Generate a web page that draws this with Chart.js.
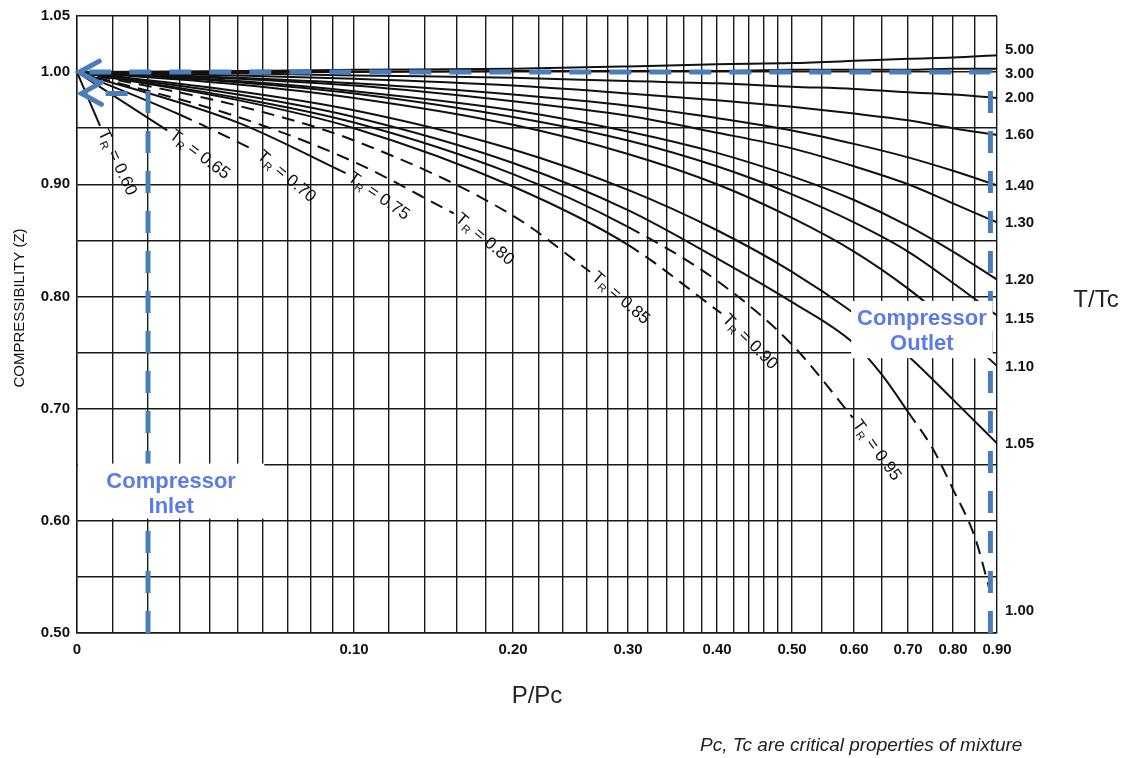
<!DOCTYPE html>
<html>
<head>
<meta charset="utf-8">
<script src="https://cdn.jsdelivr.net/npm/chart.js@4.4.0/dist/chart.umd.min.js"></script>
<style>
  html, body { margin: 0; padding: 0; background: #fff; }
</style>
</head>
<body>
<canvas id="chart" width="1129" height="758"></canvas>
<script>
// P/Pc grid lines of the chart (the pressure axis is stretched, not linear)
const pGrid = [0, 0.01, 0.02, 0.03, 0.04, 0.05, 0.06, 0.07, 0.08, 0.09, 0.10,
  0.12, 0.14, 0.16, 0.18, 0.20, 0.22, 0.24, 0.26, 0.28, 0.30,
  0.32, 0.34, 0.36, 0.38, 0.40, 0.42, 0.44, 0.46, 0.48, 0.50,
  0.55, 0.60, 0.65, 0.70, 0.75, 0.80, 0.85, 0.90];
// where each grid value falls across the plot width (0 = left edge, 1 = right edge)
const pGridPos = [0, 0.0391, 0.0772, 0.1120, 0.1446, 0.1750, 0.2022, 0.2293, 0.2543, 0.2783, 0.3011,
  0.3391, 0.3783, 0.4130, 0.4446, 0.4739, 0.5022, 0.5283, 0.5543, 0.5772, 0.5989,
  0.6207, 0.6413, 0.6598, 0.6793, 0.6957, 0.7141, 0.7304, 0.7467, 0.7620, 0.7772,
  0.8098, 0.8446, 0.8750, 0.9033, 0.9304, 0.9522, 0.9761, 1];
// labelled pressure ticks
const pTicks = [0, 0.1, 0.2, 0.3, 0.4, 0.5, 0.6, 0.7, 0.8, 0.9];
const pTickText = ['0', '0.10', '0.20', '0.30', '0.40', '0.50', '0.60', '0.70', '0.80', '0.90'];

// isotherms above T/Tc = 1 run across the whole chart
const pSuper = [0, 0.05, 0.1, 0.2, 0.3, 0.4, 0.5, 0.6, 0.7, 0.8, 0.9];
const zTr500 = [1.000, 1.001, 1.002, 1.003, 1.005, 1.007, 1.008, 1.010, 1.012, 1.013, 1.015];
const zTr300 = [1.000, 1.000, 1.000, 1.001, 1.001, 1.001, 1.002, 1.002, 1.002, 1.003, 1.003];
const zTr200 = [1.000, 0.999, 0.997, 0.995, 0.992, 0.990, 0.987, 0.985, 0.982, 0.980, 0.977];
const zTr160 = [1.000, 0.997, 0.994, 0.988, 0.981, 0.975, 0.969, 0.963, 0.957, 0.950, 0.944];
const zTr140 = [1.000, 0.995, 0.990, 0.980, 0.970, 0.959, 0.948, 0.936, 0.924, 0.912, 0.899];
const zTr130 = [1.000, 0.994, 0.988, 0.974, 0.961, 0.946, 0.932, 0.916, 0.900, 0.883, 0.866];
const zTr120 = [1.000, 0.992, 0.983, 0.966, 0.947, 0.928, 0.907, 0.886, 0.863, 0.840, 0.815];
const zTr115 = [1.000, 0.991, 0.981, 0.960, 0.939, 0.916, 0.891, 0.866, 0.840, 0.812, 0.783];
const zTr110 = [1.000, 0.989, 0.977, 0.953, 0.927, 0.900, 0.870, 0.840, 0.807, 0.774, 0.738];
const zTr105 = [1.000, 0.983, 0.966, 0.931, 0.895, 0.859, 0.822, 0.785, 0.747, 0.708, 0.669];
const pTr100 = [0, 0.05, 0.1, 0.2, 0.3, 0.4, 0.5, 0.6, 0.65, 0.7, 0.75, 0.8, 0.85, 0.885];
const zTr100 = [1.000, 0.980, 0.960, 0.919, 0.877, 0.834, 0.795, 0.758, 0.730, 0.697, 0.664, 0.628, 0.585, 0.536];

// isotherms below T/Tc = 1 stop at saturation
const pTr095 = [0, 0.05, 0.1, 0.2, 0.3, 0.4, 0.5, 0.598];
const zTr095 = [1.000, 0.977, 0.955, 0.909, 0.862, 0.814, 0.757, 0.692];
const pTr090 = [0, 0.05, 0.1, 0.2, 0.3, 0.405];
const zTr090 = [1.000, 0.975, 0.950, 0.898, 0.846, 0.785];
const pTr085 = [0, 0.05, 0.1, 0.2, 0.263];
const zTr085 = [1.000, 0.970, 0.939, 0.872, 0.822];
const pTr080 = [0, 0.05, 0.1, 0.158];
const zTr080 = [1.000, 0.960, 0.920, 0.874];
const pTr075 = [0, 0.05, 0.096];
const zTr075 = [1.000, 0.955, 0.910];
const pTr070 = [0, 0.03, 0.057];
const zTr070 = [1.000, 0.962, 0.930];
const pTr065 = [0, 0.026];
const zTr065 = [1.000, 0.948];
const pTr060 = [0, 0.0064];
const zTr060 = [1.000, 0.952];

// T/Tc labels on the right edge and the Z they sit at
const tcLabels = ['5.00', '3.00', '2.00', '1.60', '1.40', '1.30', '1.20', '1.15', '1.10', '1.05', '1.00'];
const tcLabelZ = [1.020, 0.998, 0.977, 0.944, 0.899, 0.866, 0.815, 0.780, 0.737, 0.669, 0.520];

// compressor inlet and outlet paths
const inletP = [0.02, 0.02, 0.0018];
const inletZ = [0.5, 0.981, 0.981];
const outletP = [0.885, 0.885, 0.0012];
const outletZ = [0.5, 1.0, 1.0];

const FONT = '"Liberation Sans", Arial, Helvetica, sans-serif';
const BLUE = '#4a7ebb';
const TEXT_BLUE = '#5a7be8';
const DASH = [13, 8];

// piecewise mapping between P/Pc and the position across the plot
function warp(p) {
  if (p <= pGrid[0]) return pGridPos[0];
  for (let i = 1; i < pGrid.length; i++) {
    if (p <= pGrid[i]) {
      const t = (p - pGrid[i - 1]) / (pGrid[i] - pGrid[i - 1]);
      return pGridPos[i - 1] + t * (pGridPos[i] - pGridPos[i - 1]);
    }
  }
  return pGridPos[pGridPos.length - 1];
}
function unwarp(f) {
  if (f <= pGridPos[0]) return pGrid[0];
  for (let i = 1; i < pGridPos.length; i++) {
    if (f <= pGridPos[i]) {
      const t = (f - pGridPos[i - 1]) / (pGridPos[i] - pGridPos[i - 1]);
      return pGrid[i - 1] + t * (pGrid[i] - pGrid[i - 1]);
    }
  }
  return pGrid[pGrid.length - 1];
}

class WarpScale extends Chart.LinearScale {
  getPixelForValue(value) {
    return this.getPixelForDecimal(warp(value));
  }
  getValueForPixel(pixel) {
    return unwarp(this.getDecimalForPixel(pixel));
  }
}
WarpScale.id = 'warp';
WarpScale.defaults = Chart.LinearScale.defaults;
Chart.register(WarpScale);

const toPoints = (p, z) => p.map((v, i) => ({ x: v, y: z[i] }));

// [T/Tc, pressures, Z values]
const isotherms = [
  ['5.00', pSuper, zTr500], ['3.00', pSuper, zTr300], ['2.00', pSuper, zTr200],
  ['1.60', pSuper, zTr160], ['1.40', pSuper, zTr140], ['1.30', pSuper, zTr130],
  ['1.20', pSuper, zTr120], ['1.15', pSuper, zTr115], ['1.10', pSuper, zTr110],
  ['1.05', pSuper, zTr105], ['1.00', pTr100, zTr100],
  ['0.95', pTr095, zTr095], ['0.90', pTr090, zTr090], ['0.85', pTr085, zTr085],
  ['0.80', pTr080, zTr080], ['0.75', pTr075, zTr075], ['0.70', pTr070, zTr070],
  ['0.65', pTr065, zTr065], ['0.60', pTr060, zTr060]
];
// curves drawn dashed from this P/Pc on
const dashFrom = { '1.00': 0.7, '0.95': 0.3, '0.90': 0.25, '0.85': 0, '0.80': 0, '0.70': 0.025 };
// slope of the written "TR = ..." labels, degrees
const labelAngle = { '0.95': 54, '0.90': 45, '0.85': 41, '0.80': 40, '0.75': 35, '0.70': 40, '0.65': 37, '0.60': 65 };

const datasets = [
  { label: 'outlet', data: toPoints(outletP, outletZ), borderColor: BLUE, borderWidth: 5,
    borderDash: [22, 18], pointRadius: 0, tension: 0 },
  { label: 'inlet', data: toPoints(inletP, inletZ), borderColor: BLUE, borderWidth: 5,
    borderDash: [22, 18], pointRadius: 0, tension: 0 }
];
isotherms.forEach(([tr, p, z]) => {
  const from = dashFrom[tr];
  const ds = {
    label: 'Tr ' + tr,
    data: toPoints(p, z),
    borderColor: '#111',
    borderWidth: 2,
    pointRadius: 0,
    cubicInterpolationMode: 'monotone'
  };
  if (from !== undefined) {
    ds.segment = { borderDash: ctx => (ctx.p0.parsed.x >= from - 1e-9 ? DASH : undefined) };
  }
  datasets.push(ds);
});

function drawArrow(ctx, x, y) {
  ctx.save();
  ctx.strokeStyle = BLUE;
  ctx.lineWidth = 5;
  ctx.lineCap = 'round';
  ctx.beginPath();
  ctx.moveTo(x + 20, y - 11);
  ctx.lineTo(x, y);
  ctx.lineTo(x + 20, y + 11);
  ctx.stroke();
  ctx.restore();
}

function drawTrLabel(ctx, x, y, angle, value) {
  ctx.save();
  ctx.translate(x, y);
  ctx.rotate(angle * Math.PI / 180);
  ctx.fillStyle = '#111';
  ctx.textBaseline = 'middle';
  let cx = 5;
  ctx.font = '17px ' + FONT;
  ctx.fillText('T', cx, 0);
  cx += ctx.measureText('T').width;
  ctx.font = '11px ' + FONT;
  ctx.fillText('R', cx, 5);
  cx += ctx.measureText('R').width;
  ctx.font = '17px ' + FONT;
  ctx.fillText(' = ' + value, cx, 0);
  ctx.restore();
}

function drawBox(chart, p0, p1, z0, z1, lines) {
  const { ctx, scales: { x, y } } = chart;
  const left = x.getPixelForValue(p0) + 1;
  const right = x.getPixelForValue(p1);
  const top = y.getPixelForValue(z0);
  const bottom = y.getPixelForValue(z1);
  ctx.save();
  ctx.fillStyle = '#fff';
  ctx.fillRect(left, top, right - left, bottom - top);
  ctx.fillStyle = TEXT_BLUE;
  ctx.font = 'bold 22px ' + FONT;
  ctx.textAlign = 'center';
  ctx.textBaseline = 'middle';
  const cx = (left + right) / 2;
  lines.forEach((t, i) => ctx.fillText(t, cx, top + 18 + i * 25));
  ctx.restore();
}

const decor = {
  id: 'decor',
  afterDatasetsDraw(chart) {
    const ctx = chart.ctx;
    // arrowheads at the end of both compressor paths
    [0, 1].forEach(i => {
      const pts = chart.getDatasetMeta(i).data;
      const end = pts[pts.length - 1];
      drawArrow(ctx, end.x - 2, end.y);
    });
    // TR labels at the saturation end of each sub-critical curve
    isotherms.forEach(([tr], k) => {
      if (labelAngle[tr] === undefined) return;
      const pts = chart.getDatasetMeta(k + 2).data;
      const end = pts[pts.length - 1];
      drawTrLabel(ctx, end.x, end.y, labelAngle[tr], tr);
    });
    drawBox(chart, 0, 0.0605, 0.651, 0.602, ['Compressor', 'Inlet']);
    drawBox(chart, 0.594, 0.89, 0.796, 0.745, ['Compressor', 'Outlet']);
  },
  afterDraw(chart) {
    const ctx = chart.ctx;
    ctx.save();
    ctx.fillStyle = '#222';
    ctx.textBaseline = 'middle';
    ctx.textAlign = 'center';
    ctx.font = '24px ' + FONT;
    ctx.fillText('T/Tc', 1096, 300);
    ctx.textAlign = 'left';
    ctx.font = 'italic 19px ' + FONT;
    ctx.fillText('Pc, Tc are critical properties of mixture', 700, 746);
    // y title, a little above the middle of the axis as in the original
    ctx.fillStyle = '#111';
    ctx.textAlign = 'center';
    ctx.font = '15px ' + FONT;
    ctx.translate(20, 308);
    ctx.rotate(-Math.PI / 2);
    ctx.fillText('COMPRESSIBILITY (Z)', 0, 0);
    ctx.restore();
  }
};

new Chart(document.getElementById('chart'), {
  type: 'line',
  data: { datasets },
  options: {
    responsive: false,
    animation: false,
    layout: { padding: { top: 15, left: 0, right: 0, bottom: 0 } },
    plugins: { legend: { display: false }, tooltip: { enabled: false } },
    scales: {
      x: {
        type: 'warp',
        min: 0,
        max: 0.9,
        afterBuildTicks: s => { s.ticks = pGrid.map(v => ({ value: v })); },
        afterFit: s => { s.height = 125; },
        grid: { color: '#1a1a1a', lineWidth: 1.4, drawTicks: false },
        border: { color: '#1a1a1a', width: 1.4 },
        ticks: {
          autoSkip: false,
          maxRotation: 0,
          padding: 8,
          color: '#111',
          font: { size: 15, weight: 'bold', family: FONT },
          callback: v => {
            const k = pTicks.findIndex(t => Math.abs(t - v) < 1e-9);
            return k < 0 ? '' : pTickText[k];
          }
        },
        title: {
          display: true,
          text: 'P/Pc',
          color: '#222',
          font: { size: 24, family: FONT },
          padding: { top: 0, bottom: 47 }
        }
      },
      y: {
        type: 'linear',
        position: 'left',
        min: 0.5,
        max: 1.05,
        afterFit: s => { s.width = 77; },
        grid: { color: '#1a1a1a', lineWidth: 1.4, drawTicks: false },
        border: { color: '#1a1a1a', width: 1.4 },
        ticks: {
          stepSize: 0.05,
          autoSkip: false,
          padding: 7,
          color: '#111',
          font: { size: 15, weight: 'bold', family: FONT },
          callback: v => {
            const r = Math.round(v * 100);
            return (r % 10 === 0 || r === 105) ? (r / 100).toFixed(2) : '';
          }
        }
      },
      y2: {
        type: 'linear',
        position: 'right',
        min: 0.5,
        max: 1.05,
        afterBuildTicks: s => { s.ticks = tcLabelZ.map(v => ({ value: v })); },
        afterFit: s => { s.width = 132; },
        grid: { display: false },
        border: { display: false },
        ticks: {
          autoSkip: false,
          padding: 0,
          color: '#111',
          font: { size: 15, weight: 'bold', family: FONT },
          callback: (v, i) => tcLabels[i]
        }
      }
    }
  },
  plugins: [decor]
});
</script>
</body>
</html>
